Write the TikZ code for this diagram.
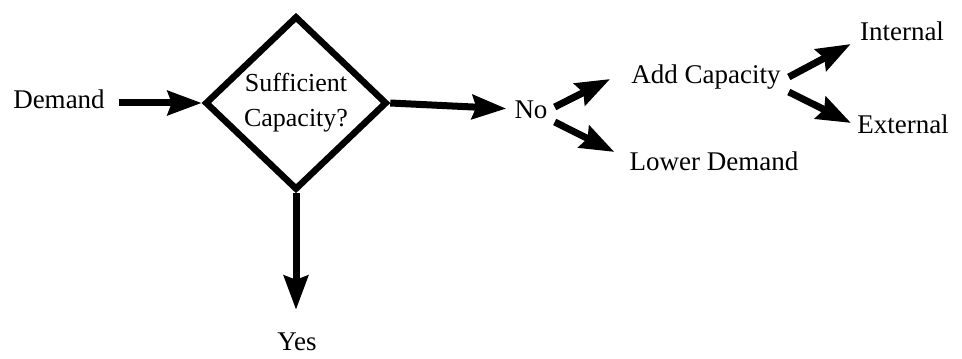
\documentclass[tikz,border=0pt]{standalone}
\usepackage{fontspec}
\setmainfont{Liberation Serif}
\usetikzlibrary{arrows.meta,shapes.geometric,calc}

\begin{document}
\begin{tikzpicture}[x=1pt,y=1pt,
  lbl/.style={inner sep=0pt,text height=18pt,text depth=6pt,
              font=\fontsize{27}{30}\selectfont},
  decision/.style={shape=diamond,draw,line width=6.5pt,inner sep=0pt,
              minimum width=182pt,minimum height=174pt,align=center,
              font=\fontsize{26}{35}\selectfont},
  arr/.style={line width=7pt,
              -{Stealth[length=34pt,width=24pt,inset=4pt]}}
]
\useasboundingbox (0,0) rectangle (962,359);

% labels
\node[lbl] (demand) at (59,256) {Demand};
\node[decision] (dia) at (296,256) {\raisebox{-12pt}{\parbox{110pt}{\centering Sufficient\\Capacity?}}};
\node[lbl] (no) at (531,246) {No};
\node[lbl] (add) at (706,281) {Add Capacity};
\node[lbl] (lower) at (714,194) {Lower Demand};
\node[lbl] (int) at (902,324) {Internal};
\node[lbl] (ext) at (903,231) {External};
\node[lbl] (yes) at (297,14) {Yes};

% flow
\draw[arr,shorten <=14pt] (demand) -- (dia.west);
\draw[arr,shorten >=8pt] (dia.east) -- ($(no.west)+(0,4)$);
\draw[arr] ($(no.east)+(7,6)$) -- ($(add.west)+(-21,-1)$);
\draw[arr] ($(no.east)+(7,-9)$) -- ($(lower.west)+(-15,13)$);
\draw[arr] ($(add.east)+(8,1)$) -- ($(int.west)+(-9,-9)$);
\draw[arr] ($(add.east)+(8,-14)$) -- ($(ext.west)+(-6,5)$);
\draw[arr] (dia.south) -- ($(dia.south |- yes.north)+(0,23)$);
\end{tikzpicture}
\end{document}
